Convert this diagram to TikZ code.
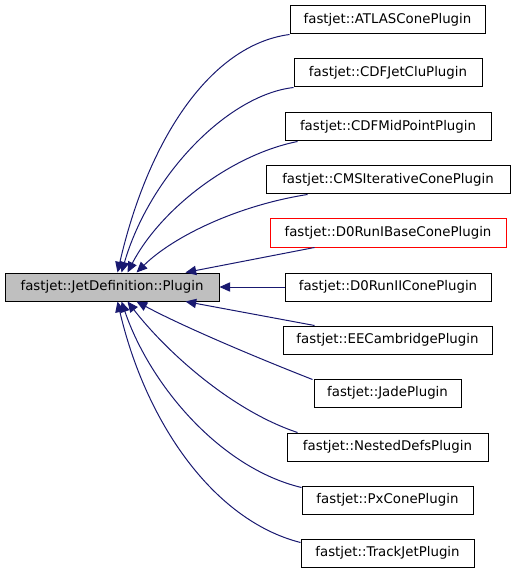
\documentclass[tikz,border=0pt]{standalone}
\usepackage{fontspec}
\setmainfont{DejaVu Sans}
\usetikzlibrary{calc,arrows.meta}
\definecolor{edgeblue}{HTML}{191970}
\definecolor{basegray}{HTML}{BFBFBF}
\tikzset{
  cls/.style={draw=black, line width=0.75pt, fill=white, minimum height=28*0.75pt, inner sep=0pt, font=\fontsize{10pt}{12pt}\selectfont, anchor=center},
  edge/.style={draw=edgeblue, line width=0.75pt, {Triangle[length=8pt,width=7pt]}-}
}
\begin{document}
\begin{tikzpicture}[x=0.75pt,y=-0.75pt]
\useasboundingbox (0,0) rectangle (515,573);
\node[cls, fill=basegray, minimum width=214*0.75pt] (base) at (112,287) {fastjet::JetDefinition::Plugin};
\node[cls, minimum width=195*0.75pt] (atlas) at (387.5,20) {fastjet::ATLASConePlugin};
\node[cls, minimum width=188*0.75pt] (cdfjet) at (388,73) {fastjet::CDFJetCluPlugin};
\node[cls, minimum width=206*0.75pt] (cdfmid) at (388,127) {fastjet::CDFMidPointPlugin};
\node[cls, minimum width=244*0.75pt] (cms) at (388,180) {fastjet::CMSIterativeConePlugin};
\node[cls, draw=red, minimum width=236*0.75pt] (d0base) at (388,233) {fastjet::D0RunIBaseConePlugin};
\node[cls, minimum width=206*0.75pt] (d0ii) at (388,287) {fastjet::D0RunIIConePlugin};
\node[cls, minimum width=209*0.75pt] (eecam) at (387.5,340) {fastjet::EECambridgePlugin};
\node[cls, minimum width=147*0.75pt] (jade) at (387.5,393) {fastjet::JadePlugin};
\node[cls, minimum width=201*0.75pt] (nested) at (387.5,447) {fastjet::NestedDefsPlugin};
\node[cls, minimum width=171*0.75pt] (pxcone) at (387.5,500) {fastjet::PxConePlugin};
\node[cls, minimum width=173*0.75pt] (trackjet) at (387.5,553) {fastjet::TrackJetPlugin};

\draw[edge] ($(base.north west)+(113,0)$) .. controls (148,140) and (210,45) .. (atlas.south west);
\draw[edge] ($(base.north west)+(117,0)$) .. controls (150,175) and (228,95) .. (cdfjet.south west);
\draw[edge] ($(base.north west)+(123,0)$) .. controls (160,210) and (230,155) .. ($(cdfmid.south west)+(13,0)$);
\draw[edge] ($(base.north west)+(132,0)$) .. controls (175,235) and (240,205) .. ($(cms.south west)+(42,0)$);
\draw[edge] ($(base.north west)+(181,0)$) -- ($(d0base.south west)+(45,0)$);
\draw[edge] (base.east) -- (d0ii.west);
\draw[edge] ($(base.south west)+(181,0)$) -- ($(eecam.north west)+(32,0)$);
\draw[edge] ($(base.south west)+(132,0)$) .. controls (180,325) and (250,355) .. ($(jade.north west)+(-1,1)$);
\draw[edge] ($(base.south west)+(123,0)$) .. controls (165,350) and (230,410) .. ($(nested.north west)+(11,0)$);
\draw[edge] ($(base.south west)+(117,0)$) .. controls (150,385) and (220,468) .. ($(pxcone.north west)+(0,2)$);
\draw[edge] ($(base.south west)+(113,0)$) .. controls (145,420) and (212,520) .. ($(trackjet.north west)+(0,4)$);
\end{tikzpicture}
\end{document}
